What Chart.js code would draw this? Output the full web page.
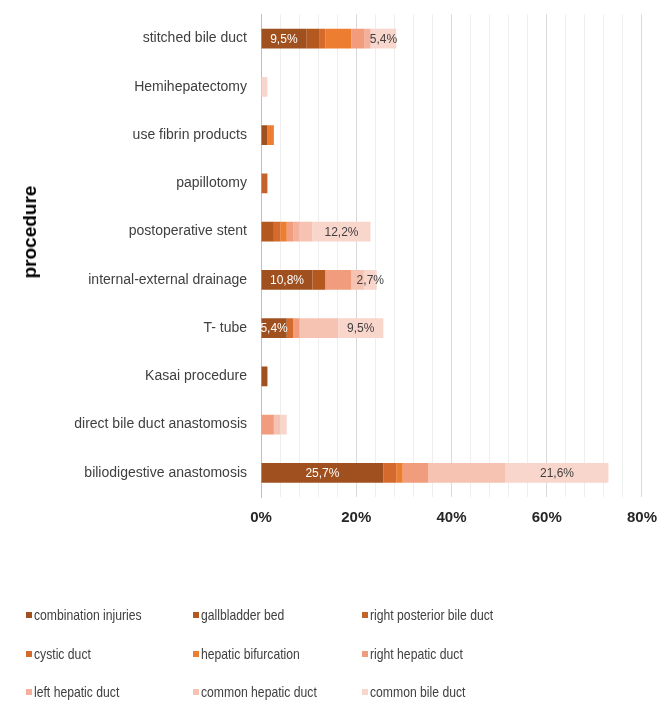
<!DOCTYPE html>
<html>
<head>
<meta charset="utf-8">
<script src="https://cdn.jsdelivr.net/npm/chart.js@4/dist/chart.umd.min.js"></script>
<style>
  body { margin: 0; background: #fff; }
  #wrap { position: relative; width: 669px; height: 707px; }
  #legend {
    position: absolute; left: 26px; top: 596px;
    display: grid; grid-template-columns: 167px 169px 220px; grid-auto-rows: 38.5px;
    font-family: "Liberation Sans", Arial, sans-serif; font-size: 14.5px; color: #404040;
  }
  #legend div { display: flex; align-items: center; white-space: nowrap; }
  #legend span.sw { display: inline-block; width: 6px; height: 6px; margin-right: 2px; }
  #legend span.tx { display: inline-block; transform: scaleX(0.84); transform-origin: left center; }
  #ytitle {
    position: absolute; left: 30px; top: 232px;
    transform: translate(-50%, -50%) rotate(-90deg);
    font-family: "Liberation Sans", Arial, sans-serif; font-size: 19px; font-weight: bold; color: #000;
    white-space: nowrap;
  }
</style>
</head>
<body>
<div id="wrap">
  <canvas id="procedureChart" width="669" height="707"></canvas>
  <div id="ytitle">procedure</div>
  <div id="legend"></div>
</div>
<script>
var procedures = ['stitched bile duct', 'Hemihepatectomy', 'use fibrin products', 'papillotomy',
  'postoperative stent', 'internal-external drainage', 'T- tube', 'Kasai procedure',
  'direct bile duct anastomosis', 'biliodigestive anastomosis'];

var injuryNames = ['combination injuries', 'gallbladder bed', 'right posterior bile duct', 'cystic duct',
  'hepatic bifurcation', 'right hepatic duct', 'left hepatic duct', 'common hepatic duct', 'common bile duct'];

var injuryColors = ['#A0501E', '#B3581F', '#C5622A', '#D46A2B', '#ED7D31', '#F19C7C', '#F4B09A', '#F6C3B2', '#F9D6CC'];

// share of patients (%) per procedure, one array per injury site
var combinationInjuries = [9.5, 0, 1.35, 0, 0, 10.8, 5.4, 1.35, 0, 25.7];
var gallbladderBed      = [2.7, 0, 0, 0, 2.7, 2.7, 0, 0, 0, 0];
var rightPosteriorDuct  = [0, 0, 0, 1.35, 0, 0, 0, 0, 0, 0];
var cysticDuct          = [1.35, 0, 0, 0, 1.35, 0, 1.35, 0, 0, 2.7];
var hepaticBifurcation  = [5.4, 0, 1.35, 0, 1.35, 0, 0, 0, 0, 1.35];
var rightHepaticDuct    = [2.7, 0, 0, 0, 1.35, 5.4, 1.35, 0, 2.7, 5.4];
var leftHepaticDuct     = [1.35, 0, 0, 0, 1.35, 0, 0, 0, 0, 0];
var commonHepaticDuct   = [0, 0, 0, 0, 2.7, 2.7, 8.1, 0, 1.35, 16.2];
var commonBileDuct      = [5.4, 1.35, 0, 0, 12.2, 2.7, 9.5, 0, 1.35, 21.6];

var seriesValues = [combinationInjuries, gallbladderBed, rightPosteriorDuct, cysticDuct, hepaticBifurcation,
  rightHepaticDuct, leftHepaticDuct, commonHepaticDuct, commonBileDuct];

var xTickStep = 4;
var xMax = 80;

const fontFamily = '"Liberation Sans", Arial, sans-serif';

// value labels on the first and the last segment, like the original
const segmentLabels = {
  id: 'segmentLabels',
  afterDatasetsDraw(chart) {
    const ctx = chart.ctx;
    ctx.save();
    ctx.font = '12px ' + fontFamily;
    ctx.textAlign = 'center';
    ctx.textBaseline = 'middle';
    chart.data.datasets.forEach(function(ds, i) {
      if (!ds.labelColor) return;
      ctx.fillStyle = ds.labelColor;
      chart.getDatasetMeta(i).data.forEach(function(bar, j) {
        var v = ds.data[j];
        if (v < 2) return;
        var p = bar.getProps(['x', 'y', 'base'], true);
        ctx.fillText(v.toFixed(1).replace('.', ',') + '%', (p.x + p.base) / 2, p.y + 1);
      });
    });
    ctx.restore();
  }
};

var datasets = injuryNames.map(function(name, i) {
  return {
    label: name,
    data: seriesValues[i],
    backgroundColor: injuryColors[i],
    borderWidth: 0,
    categoryPercentage: 1,
    barPercentage: 0.41,
    labelColor: i === 0 ? '#ffffff' : (i === injuryNames.length - 1 ? '#404040' : null)
  };
});

var ctx = document.getElementById('procedureChart').getContext('2d');
var chart = new Chart(ctx, {
  type: 'bar',
  data: { labels: procedures, datasets: datasets },
  plugins: [segmentLabels],
  options: {
    indexAxis: 'y',
    responsive: false,
    animation: false,
    layout: { padding: { top: 9, right: 27, bottom: 168, left: 0 } },
    plugins: { legend: { display: false }, tooltip: { enabled: false } },
    scales: {
      x: {
        stacked: true,
        min: 0,
        max: xMax,
        border: { display: false },
        grid: {
          drawTicks: false,
          color: function(c) { return c.tick && c.tick.value % 20 === 0 ? '#D9D9D9' : '#EEEEEE'; }
        },
        ticks: {
          stepSize: xTickStep,
          autoSkip: false,
          maxRotation: 0,
          padding: 12,
          color: '#262626',
          font: { family: fontFamily, size: 15, weight: 'bold' },
          callback: function(v) { return v % 20 === 0 ? v + '%' : ''; }
        }
      },
      y: {
        stacked: true,
        border: { display: true, color: '#BFBFBF' },
        grid: { display: false },
        ticks: {
          padding: 6,
          color: '#404040',
          font: { family: fontFamily, size: 14 }
        },
        afterFit: function(scale) { scale.width = 261; }
      }
    }
  }
});

var legendBox = document.getElementById('legend');
injuryNames.forEach(function(name, i) {
  var item = document.createElement('div');
  var sw = document.createElement('span');
  sw.className = 'sw';
  sw.style.background = injuryColors[i];
  var tx = document.createElement('span');
  tx.className = 'tx';
  tx.textContent = name;
  item.appendChild(sw);
  item.appendChild(tx);
  legendBox.appendChild(item);
});
</script>
</body>
</html>
